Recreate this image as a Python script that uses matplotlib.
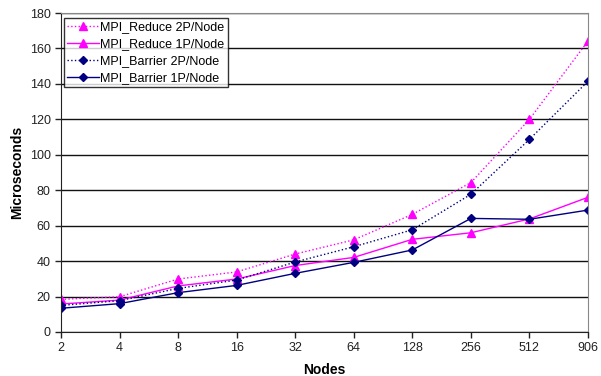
import numpy as np
import matplotlib
matplotlib.use('Agg')
from matplotlib import pyplot as plt

plt.rcParams['font.family'] = ['Liberation Sans', 'DejaVu Sans']

nodes = ['2', '4', '8', '16', '32', '64', '128', '256', '512', '906']
reduce_2p = [18.4, 19.9, 29.9, 33.9, 44, 52, 66.4, 84.3, 120, 164.2]
reduce_1p = [15.8, 18, 26, 29.9, 37.5, 42.1, 52.3, 56, 63.8, 76]
barrier_2p = [15, 17.7, 24.6, 29.3, 39.5, 48.1, 57.7, 77.7, 108.7, 141.5]
barrier_1p = [13.4, 16, 22.2, 26.3, 33.1, 39.3, 46.3, 64.1, 63.6, 68.8]

magenta = '#FF00FF'
navy = '#000080'

fig = plt.figure(figsize=(6.01, 3.76), dpi=100)
ax = fig.add_axes([61 / 601, 44 / 376, 527 / 601, 319 / 376])

x = np.arange(len(nodes))
ax.plot(x, reduce_2p, color=magenta, ls=':', lw=1, marker='^', ms=5.5,
        label='MPI_Reduce 2P/Node')
ax.plot(x, reduce_1p, color=magenta, ls='-', lw=1, marker='^', ms=5.5,
        label='MPI_Reduce 1P/Node')
ax.plot(x, barrier_2p, color=navy, ls=':', lw=1, marker='D', ms=4,
        label='MPI_Barrier 2P/Node')
ax.plot(x, barrier_1p, color=navy, ls='-', lw=1, marker='D', ms=4,
        label='MPI_Barrier 1P/Node')

ax.set_xlim(0, len(nodes) - 1)
ax.set_ylim(0, 180)
ax.set_xticks(x)
ax.set_xticklabels(nodes)
ax.set_yticks(range(0, 181, 20))
ax.yaxis.grid(True, color='#111111', lw=1)
ax.set_axisbelow(True)
ax.tick_params(labelsize=9, direction='out', length=4, width=1, colors='#222222')

for side in ['top', 'right']:
    ax.spines[side].set_color('#888888')
for side in ['left', 'bottom']:
    ax.spines[side].set_color('#222222')

ax.set_xlabel('Nodes', fontsize=10, fontweight='bold', labelpad=6)
ax.set_ylabel('Microseconds', fontsize=10, fontweight='bold', labelpad=4)

leg = ax.legend(loc='upper left', bbox_to_anchor=(0.006, 0.984), fontsize=9,
                frameon=True, fancybox=False, edgecolor='black',
                borderpad=0.25, labelspacing=0.4, handlelength=2.5,
                handletextpad=0.15, borderaxespad=0.0)
leg.get_frame().set_linewidth(1)

fig.savefig('out.png', dpi=100)
